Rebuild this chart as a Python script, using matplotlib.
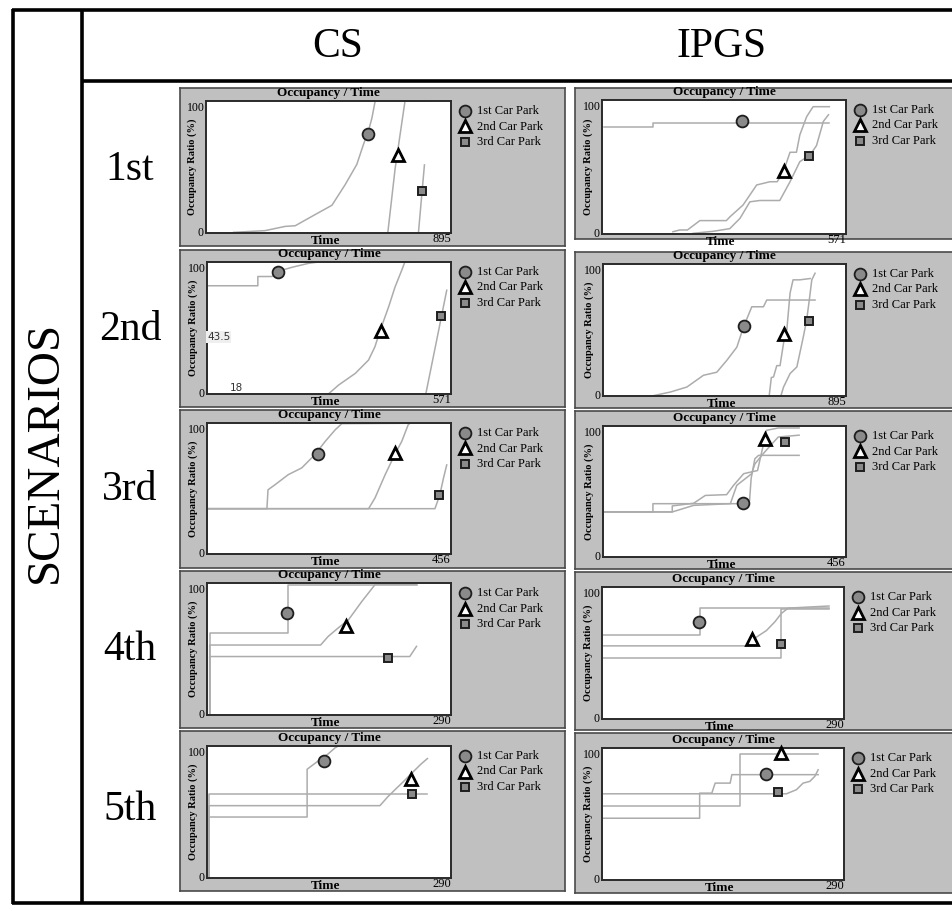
import matplotlib
matplotlib.use("Agg")
import matplotlib.pyplot as plt
from matplotlib.lines import Line2D

W, H = 953, 905
plt.rcParams["font.family"] = ["Liberation Serif", "DejaVu Serif"]

SCENARIOS = ["1st", "2nd", "3rd", "4th", "5th"]
METHODS = ["CS", "IPGS"]
LOTS = ["1st Car Park", "2nd Car Park", "3rd Car Park"]

CS_TMAX = [895, 571, 456, 290, 290]
IP_TMAX = [571, 895, 456, 290, 290]

# ---- CS, scenario 1
CS1_X1 = [101, 216, 289, 326, 399, 460, 508, 551, 575, 593, 606, 618, 800]
CS1_Y1 = [0.5, 1.8, 5, 5.5, 14, 21, 36.5, 52, 67, 77, 87, 100, 100]
CS1_X2 = [664, 691, 727, 800]
CS1_Y2 = [0, 49, 100, 100]
CS1_X3 = [776, 787, 798]
CS1_Y3 = [0, 26, 51.6]
CS1_MARK = [(593, 75), (703, 59), (788, 31.5)]

# ---- IPGS, scenario 1
IP1_X1 = [5, 119, 119, 532]
IP1_Y1 = [80, 80, 83, 83]
IP1_X2 = [166, 182, 200, 229, 291, 300, 330, 362, 393, 410, 424, 440, 455, 463, 479, 494, 532]
IP1_Y2 = [1.7, 3, 3, 10, 10, 13, 21.6, 36.6, 39, 39, 46, 61, 61, 74, 87.6, 95, 95]
IP1_X3 = [213, 260, 299, 323, 346, 369, 416, 440, 463, 487, 502, 518, 530]
IP1_Y3 = [0.5, 2, 4, 11.7, 24, 25, 25, 39, 54, 59, 66, 84, 89]
IP1_MARK = [(328, 84), (426, 47), (485, 58.5)]

# ---- CS, scenario 2
CS2_X1 = [3.9, 119, 119, 152, 167, 199, 238, 261, 479]
CS2_Y1 = [82, 82, 89, 89, 93, 96, 99, 100, 100]
CS2_X2 = [284, 308, 347, 378, 393, 405, 425, 440, 456, 463, 479]
CS2_Y2 = [0, 6.8, 15.6, 25.7, 35.8, 48, 66, 81, 94, 100, 100]
CS2_X3 = [512, 537, 561]
CS2_Y3 = [0, 40, 78.6]
CS2_MARK = [(165, 92.5), (407, 48), (547, 59)]
CS2_NOTES = [(0, 43.5, "43.5"), (70, 1, "18")]

# ---- IPGS, scenario 2
IP2_X1 = [180, 248, 309, 370, 419, 456, 493, 517, 548, 591, 603, 781]
IP2_Y1 = [0, 3, 6.8, 15.7, 18, 27, 37, 52, 67.6, 67.6, 72.7, 72.7]
IP2_X2 = [612, 620, 628, 640, 652, 665, 670, 677, 689, 700, 725, 763]
IP2_Y2 = [0, 14, 14.4, 23, 23, 40, 50, 50, 78, 88, 88, 89]
IP2_X3 = [655, 665, 689, 714, 738, 750, 760, 769, 781]
IP2_Y3 = [0, 6.8, 17, 22, 45, 57.5, 73, 88, 93]
IP2_MARK = [(520, 53), (668, 47), (760, 57)]

# ---- CS, scenario 3
CS3_X1 = [0, 112, 114, 127.5, 152, 177, 202, 221, 240, 252, 456]
CS3_Y1 = [34.6, 34.6, 49, 53, 60.6, 65.7, 76, 86, 95, 99.5, 100]
CS3_X2 = [0, 302, 314, 333, 351, 364, 376, 380, 456]
CS3_Y2 = [34.6, 34.6, 42.8, 60.6, 76, 86, 98.7, 100, 100]
CS3_X3 = [0, 426, 435, 442, 448]
CS3_Y3 = [34.6, 34.6, 45, 58, 68]
CS3_MARK = [(208, 76), (351, 77), (434, 45)]

# ---- IPGS, scenario 3
IP3_X1 = [2.5, 93.7, 93.7, 262, 275, 278, 285, 292, 368]
IP3_Y1 = [34.4, 34.4, 40.7, 40.7, 43, 60, 75, 77.6, 77.6]
IP3_X2 = [2.5, 130, 130, 170, 192, 232, 245, 264, 290, 307, 329, 368]
IP3_Y2 = [34.4, 34.4, 39, 41, 47, 47.6, 54.7, 63.6, 66, 96.7, 98.5, 98.5]
IP3_X3 = [2.5, 130, 170, 239, 251, 279, 285, 298, 314, 329, 368]
IP3_Y3 = [34.4, 34.4, 39.4, 40.7, 54.7, 63.6, 71, 77.6, 85, 91.6, 93]
IP3_MARK = [(262, 41.5), (304, 90), (342, 88)]

# ---- CS, scenario 4
CS4_X1 = [3.2, 3.2, 96, 96, 249]
CS4_Y1 = [0, 62.5, 62.5, 98.7, 98.7]
CS4_X2 = [3.2, 3.2, 135, 144, 156, 168, 184, 200, 249]
CS4_Y2 = [0, 53, 53, 59.5, 66, 72, 86, 99, 99]
CS4_X3 = [3.2, 3.2, 241, 249]
CS4_Y3 = [0, 44.3, 44.3, 52]
CS4_MARK = [(95.6, 77), (165, 67.6), (215, 43.5)]

# ---- IPGS, scenario 4
IP4_X1 = [0, 117, 117, 272]
IP4_Y1 = [64, 64, 84.4, 84.4]
IP4_X2 = [0, 173, 185, 197, 207, 215, 223, 272]
IP4_Y2 = [55.4, 55.4, 62, 67, 73.5, 80, 84, 85.6]
IP4_X3 = [0, 215, 215, 272]
IP4_Y3 = [46.3, 46.3, 83.6, 83.6]
IP4_MARK = [(116, 73.5), (180, 60.5), (214, 56.7)]

# ---- CS, scenario 5
CS5_X1 = [2.4, 2.4, 119, 119, 128, 136, 144, 152, 156, 262]
CS5_Y1 = [0, 46.2, 46.2, 82.4, 86.7, 90.5, 94, 98.5, 100, 100]
CS5_X2 = [2.4, 2.4, 205.5, 215, 223, 235, 247, 255, 262]
CS5_Y2 = [0, 54.8, 54.8, 61.6, 66.6, 74, 81.7, 86.7, 90.5]
CS5_X3 = [2.4, 2.4, 262]
CS5_Y3 = [0, 63.8, 63.8]
CS5_MARK = [(139, 88.5), (242, 75), (244, 63.6)]

# ---- IPGS, scenario 5
IP5_X1 = [0, 117, 117, 131.6, 135.6, 153.6, 155.6, 259]
IP5_Y1 = [46.8, 46.8, 65.8, 65.8, 73.4, 73.4, 79.8, 79.8]
IP5_X2 = [0, 165.5, 165.5, 259]
IP5_Y2 = [56.2, 56.2, 95.5, 95.5]
IP5_X3 = [0, 221, 233, 241, 249, 255, 259]
IP5_Y3 = [65.3, 65.3, 68.4, 73.4, 74.7, 78.5, 83.5]
IP5_MARK = [(196, 80.3), (214, 96.5), (211.4, 67)]

CS_CURVES = [
    [(CS1_X1, CS1_Y1), (CS1_X2, CS1_Y2), (CS1_X3, CS1_Y3)],
    [(CS2_X1, CS2_Y1), (CS2_X2, CS2_Y2), (CS2_X3, CS2_Y3)],
    [(CS3_X1, CS3_Y1), (CS3_X2, CS3_Y2), (CS3_X3, CS3_Y3)],
    [(CS4_X1, CS4_Y1), (CS4_X2, CS4_Y2), (CS4_X3, CS4_Y3)],
    [(CS5_X1, CS5_Y1), (CS5_X2, CS5_Y2), (CS5_X3, CS5_Y3)],
]
IP_CURVES = [
    [(IP1_X1, IP1_Y1), (IP1_X2, IP1_Y2), (IP1_X3, IP1_Y3)],
    [(IP2_X1, IP2_Y1), (IP2_X2, IP2_Y2), (IP2_X3, IP2_Y3)],
    [(IP3_X1, IP3_Y1), (IP3_X2, IP3_Y2), (IP3_X3, IP3_Y3)],
    [(IP4_X1, IP4_Y1), (IP4_X2, IP4_Y2), (IP4_X3, IP4_Y3)],
    [(IP5_X1, IP5_Y1), (IP5_X2, IP5_Y2), (IP5_X3, IP5_Y3)],
]
CS_MARKS = [CS1_MARK, CS2_MARK, CS3_MARK, CS4_MARK, CS5_MARK]
IP_MARKS = [IP1_MARK, IP2_MARK, IP3_MARK, IP4_MARK, IP5_MARK]

# pixel boxes (left, top, right, bottom)
CS_GRAY = [(180, 88, 565, 246), (180, 250, 565, 407), (180, 410, 565, 568),
           (180, 571, 565, 728), (180, 731, 565, 891)]
CS_PLOT = [(206, 101, 451, 233), (207, 262, 451, 394), (207, 423, 451, 554),
           (207, 583, 451, 715), (207, 746, 451, 878)]
IP_GRAY = [(575, 88, 960, 239), (575, 252, 960, 408), (575, 411, 960, 569),
           (575, 572, 960, 730), (575, 733, 960, 893)]
IP_PLOT = [(602, 100, 846, 234), (603, 264, 846, 396), (603, 426, 846, 557),
           (602, 587, 844, 719), (602, 748, 844, 880)]

LINE_GREY = "#acacac"
MARKER_STYLES = [
    dict(marker="o", ms=8.5, mfc="#8a8a8a", mec="#1e1e1e", mew=1.3),
    dict(marker="^", ms=8.5, mfc="white", mec="black", mew=2.0),
    dict(marker="s", ms=5.5, mfc="#8a8a8a", mec="#1e1e1e", mew=1.4),
]

fig = plt.figure(figsize=(W / 100, H / 100), dpi=100, facecolor="white")


def rect(box):
    l, t, r, b = box
    return [l / W, 1 - b / H, (r - l) / W, (b - t) / H]


def ftext(x, y, s, **kw):
    return fig.text(x / W, 1 - y / H, s, **kw)


def hline(x0, x1, y, lw=2.6):
    fig.add_artist(Line2D([x0 / W, x1 / W], [1 - y / H, 1 - y / H], color="black",
                          lw=lw, transform=fig.transFigure, solid_capstyle="butt"))


def vline(x, y0, y1, lw=2.6):
    fig.add_artist(Line2D([x / W, x / W], [1 - y0 / H, 1 - y1 / H], color="black",
                          lw=lw, transform=fig.transFigure, solid_capstyle="butt"))


def draw_panel(gray, plot, tmax, curves, marks, notes=None):
    bg = fig.add_axes(rect(gray))
    bg.set_facecolor("#c0c0c0")
    bg.set_xticks([])
    bg.set_yticks([])
    for sp in bg.spines.values():
        sp.set_color("#4a4a4a")
        sp.set_linewidth(1.2)

    ax = fig.add_axes(rect(plot))
    ax.set_facecolor("white")
    ax.set_xlim(0, tmax)
    ax.set_ylim(0, 100)
    ax.set_xticks([])
    ax.set_yticks([])
    for sp in ax.spines.values():
        sp.set_color("#2a2a2a")
        sp.set_linewidth(1.4)
    for xs, ys in curves:
        ax.plot(xs, ys, color=LINE_GREY, lw=1.1)
    for (mx, my), st in zip(marks, MARKER_STYLES):
        ax.plot([mx], [my], linestyle="none", clip_on=False, zorder=5, **st)
    if notes:
        for nx, ny, s in notes:
            if s == "43.5":
                ax.text(nx, ny, s, fontsize=7.5, ha="left", va="center",
                        family=["DejaVu Sans"], color="#333333",
                        bbox=dict(boxstyle="square,pad=0.1", fc="#efefef", ec="none"))
            else:
                ax.text(nx, ny, s, fontsize=7.5, ha="center", va="bottom",
                        family=["DejaVu Sans"], color="#333333")

    l, t, r, b = plot
    cx = (l + r) / 2
    ftext(cx, t - 8, "Occupancy / Time", fontsize=9.5, fontweight="bold",
          ha="center", va="center")
    ftext(l - 14, (t + b) / 2, "Occupancy Ratio (%)", fontsize=7.5, fontweight="bold",
          rotation=90, ha="center", va="center")
    ftext(l - 1, t + 1, "100", fontsize=8.5, ha="right", va="top")
    ftext(l - 2, b, "0", fontsize=8.5, ha="right", va="center")
    ftext(cx - 3, b + 8, "Time", fontsize=9.5, fontweight="bold",
          ha="center", va="center")
    ftext(r, b + 6, str(tmax), fontsize=9, ha="right", va="center")

    for k, (name, st) in enumerate(zip(LOTS, MARKER_STYLES)):
        y = t + 10 + k * 15.5
        fig.add_artist(Line2D([(r + 14) / W], [1 - y / H], transform=fig.transFigure,
                              linestyle="none", **st))
        ftext(r + 26, y, name, fontsize=9, ha="left", va="center")


for i in range(5):
    notes = CS2_NOTES if i == 1 else None
    draw_panel(CS_GRAY[i], CS_PLOT[i], CS_TMAX[i], CS_CURVES[i], CS_MARKS[i], notes)
    draw_panel(IP_GRAY[i], IP_PLOT[i], IP_TMAX[i], IP_CURVES[i], IP_MARKS[i])

# table frame
hline(12, 953, 10.5)
hline(81, 953, 81.5)
hline(12, 953, 902.5)
vline(13.5, 9, 904)
vline(81.5, 9, 904)

ftext(338, 47, METHODS[0], fontsize=30, ha="center", va="center")
ftext(722, 47, METHODS[1], fontsize=30, ha="center", va="center")
ftext(46, 452, "SCENARIOS", fontsize=34, rotation=90, ha="center", va="center")
for i, lab in enumerate(SCENARIOS):
    ftext(130, 170 + i * 160, lab, fontsize=30, ha="center", va="center")

fig.savefig("out.png", dpi=100, facecolor="white")
